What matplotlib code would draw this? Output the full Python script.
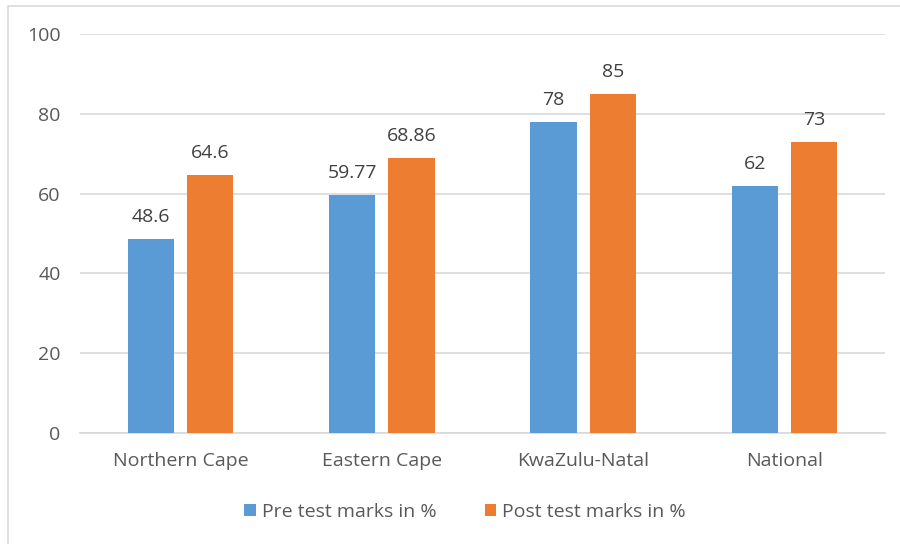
import matplotlib.pyplot as plt
import numpy as np
from matplotlib.patches import Rectangle

plt.rcParams['font.family'] = ['Open Sans', 'DejaVu Sans']

categories = ["Northern Cape", "Eastern Cape", "KwaZulu-Natal", "National"]
pre_test = [48.6, 59.77, 78, 62]
post_test = [64.6, 68.86, 85, 73]
pre_labels = ["48.6", "59.77", "78", "62"]
post_labels = ["64.6", "68.86", "85", "73"]
series_names = ["Pre test marks in %", "Post test marks in %"]

blue = "#5B9BD5"
orange = "#ED7D31"
text_col = "#595959"
grid_col = "#D9D9D9"
fs = 14

fig = plt.figure(figsize=(9, 5.44), dpi=100)
fig.patch.set_facecolor("white")
# outer chart border
fig.add_artist(Rectangle((8 / 900, -0.05), 1.0, 1 - 6 / 544 + 0.05,
                         transform=fig.transFigure, fill=False,
                         edgecolor="#D9D9D9", linewidth=1.2))

ax = fig.add_axes([80 / 900, 111 / 544, 805 / 900, 399 / 544])
x = np.arange(len(categories))
w = 0.229
gap = 0.065
off = (w + gap) / 2
b1 = ax.bar(x - off, pre_test, w, color=blue, label=series_names[0], zorder=3)
b2 = ax.bar(x + off, post_test, w, color=orange, label=series_names[1], zorder=3)

for bars, labels in ((b1, pre_labels), (b2, post_labels)):
    for rect, lab in zip(bars, labels):
        ax.text(rect.get_x() + rect.get_width() / 2, rect.get_height() + 3.2, lab,
                ha="center", va="bottom", fontsize=fs, color="#404040")

ax.set_xlim(-0.5, len(categories) - 0.5)
ax.set_ylim(0, 100)
ax.set_yticks(range(0, 101, 20))
ax.set_xticks(x)
ax.set_xticklabels(categories)
ax.tick_params(axis="both", length=0, labelsize=fs, labelcolor=text_col)
ax.tick_params(axis="y", pad=14)
ax.tick_params(axis="x", pad=14)
ax.yaxis.grid(True, color=grid_col, linewidth=1.2, zorder=0)
ax.set_axisbelow(True)
for s in ["top", "right", "left"]:
    ax.spines[s].set_visible(False)
ax.spines["bottom"].set_color(grid_col)
ax.spines["bottom"].set_linewidth(1.2)

leg = fig.legend(handles=[b1, b2], loc="center", bbox_to_anchor=(465 / 900, 1 - 512 / 544),
                 ncol=2, frameon=False, fontsize=fs, handlelength=0.6, handleheight=0.6,
                 handletextpad=0.3, columnspacing=2.5)
for t in leg.get_texts():
    t.set_color(text_col)

fig.savefig("out.png", dpi=100, facecolor="white")
